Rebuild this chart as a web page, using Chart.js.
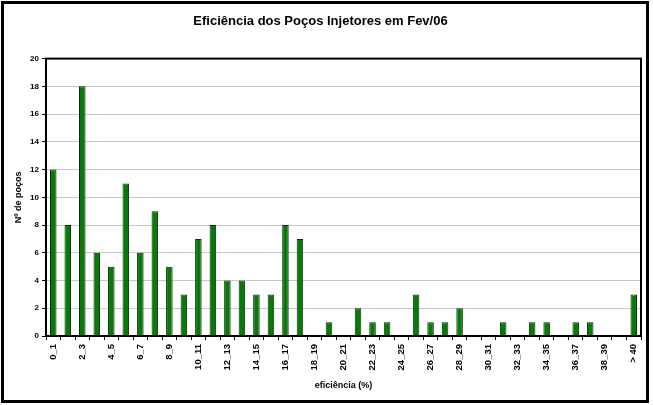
<!DOCTYPE html>
<html>
<head>
<meta charset="utf-8">
<script src="https://cdn.jsdelivr.net/npm/chart.js@4/dist/chart.umd.min.js"></script>
<style>
  html, body { margin: 0; padding: 0; background: #fff; }
  #wrap { width: 653px; height: 405px; }
</style>
</head>
<body>
<div id="wrap"><canvas id="efChart" width="653" height="405"></canvas></div>
<script>
// faixas de eficiência (%)
const faixas = [
    '0_1', '1_2', '2_3', '3_4', '4_5', '5_6', '6_7', '7_8', '8_9', '9_10',
    '10_11', '11_12', '12_13', '13_14', '14_15', '15_16', '16_17', '17_18', '18_19', '19_20',
    '20_21', '21_22', '22_23', '23_24', '24_25', '25_26', '26_27', '27_28', '28_29', '29_30',
    '30_31', '31_32', '32_33', '33_34', '34_35', '35_36', '36_37', '37_38', '38_39', '39_40',
    '> 40'
];

// número de poços por faixa
const nPocos = [
    12, 8, 18, 6, 5, 11, 6, 9, 5, 3,
    7, 8, 4, 4, 3, 3, 8, 7, 0, 1,
    0, 2, 1, 1, 0, 3, 1, 1, 2, 0,
    0, 1, 0, 1, 1, 0, 1, 1, 0, 0,
    3
];

const yMin = 0;
const yMax = 20;
const yStep = 2;

const fonte = 'Arial, "Liberation Sans", sans-serif';

// moldura externa e borda da área do gráfico
const molduraPlugin = {
    id: 'moldura',
    afterDraw(chart) {
        const ctx = chart.ctx;
        const a = chart.chartArea;
        ctx.save();
        ctx.strokeStyle = '#000';
        ctx.lineWidth = 2;
        ctx.strokeRect(a.left, a.top, a.right - a.left, a.bottom - a.top);
        ctx.lineWidth = 3;
        ctx.strokeRect(2.5, 2.5, 645, 399);
        ctx.restore();
    }
};

const efConfig = {
    type: 'bar',
    data: {
        labels: faixas,
        datasets: [{
            data: nPocos,
            backgroundColor: '#077a07',
            borderColor: '#0b2a0b',
            borderWidth: 1,
            barPercentage: 0.45,
            categoryPercentage: 1.0
        }]
    },
    options: {
        responsive: false,
        animation: false,
        layout: {
            padding: { left: 0, right: 12, top: 0, bottom: 4 }
        },
        plugins: {
            legend: { display: false },
            tooltip: { enabled: false },
            title: {
                display: true,
                text: 'Eficiência dos Poços Injetores em Fev/06',
                color: '#000',
                font: { family: fonte, size: 13, weight: 'bold' },
                padding: { top: 14, bottom: 29 }
            }
        },
        scales: {
            x: {
                offset: true,
                afterFit: s => { s.height = 65; },
                grid: {
                    drawOnChartArea: false,
                    drawTicks: true,
                    tickLength: 4,
                    tickColor: '#000'
                },
                border: { display: true, color: '#000', width: 2 },
                ticks: {
                    autoSkip: false,
                    minRotation: 90,
                    maxRotation: 90,
                    padding: 4,
                    color: '#000',
                    font: { family: fonte, size: 9.5, weight: 'bold' },
                    callback: function(value, index) {
                        return index % 2 === 0 ? this.getLabelForValue(value) : '';
                    }
                },
                title: {
                    display: true,
                    text: 'eficiência (%)',
                    color: '#000',
                    font: { family: fonte, size: 9, weight: 'bold' },
                    padding: { top: 0, bottom: 10 }
                }
            },
            y: {
                min: yMin,
                max: yMax,
                afterFit: s => { s.width = 46; },
                grid: {
                    color: '#c8c8c8',
                    drawTicks: true,
                    tickLength: 4,
                    tickColor: '#000'
                },
                border: { display: true, color: '#000', width: 2 },
                ticks: {
                    stepSize: yStep,
                    padding: 3,
                    color: '#000',
                    font: { family: fonte, size: 8, weight: 'bold' }
                },
                title: {
                    display: true,
                    text: 'Nº de poços',
                    color: '#000',
                    font: { family: fonte, size: 9, weight: 'bold' },
                    padding: { top: 13, bottom: 0 }
                }
            }
        }
    },
    plugins: [molduraPlugin]
};

window.onload = function() {
    const efCtx = document.getElementById('efChart').getContext('2d');
    new Chart(efCtx, efConfig);
};
</script>
</body>
</html>
